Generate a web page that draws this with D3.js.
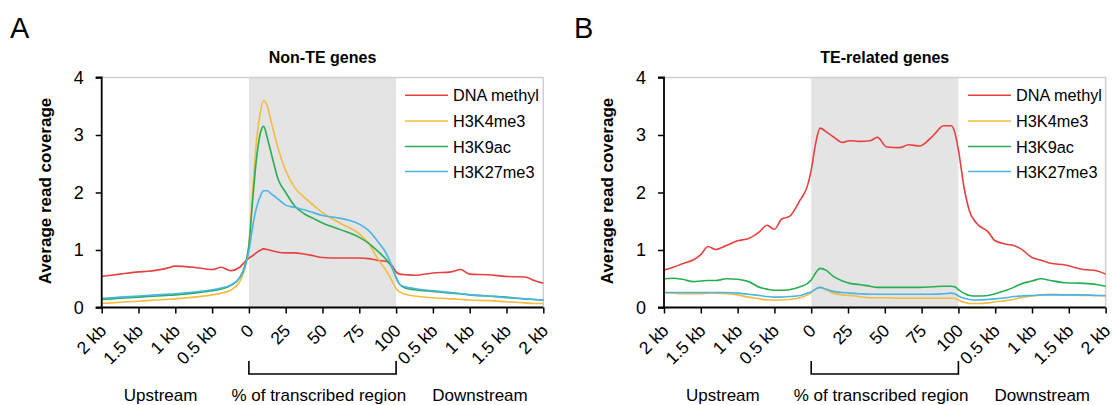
<!DOCTYPE html>
<html><head><meta charset="utf-8">
<script src="https://cdn.jsdelivr.net/npm/d3@7"></script>
<style>
html,body{margin:0;padding:0;background:#fff;}
svg{display:block;font-family:"Liberation Sans",Arial,sans-serif;}
</style></head>
<body>
<svg id="chart" width="1113" height="405"></svg>
<script>
// ---------- data ----------
const seriesNames = ["DNA methyl", "H3K4me3", "H3K9ac", "H3K27me3"];
const seriesColors = ["#e8403f", "#f2bc3e", "#27ae52", "#4ab4e6"];
const xTickLabels = ["2 kb","1.5 kb","1 kb","0.5 kb","0","25","50","75","100","0.5 kb","1 kb","1.5 kb","2 kb"];
const yTicks = [0,1,2,3,4];
const regionLabels = ["Upstream","% of transcribed region","Downstream"];
const panelTitles = ["Non-TE genes","TE-related genes"];
const panelLetters = ["A","B"];

// Panel A: positions along the metagene axis (0-4 upstream, 4-8 gene body, 8-12 downstream)
const posA = [0,0.5,1,1.25,1.5,1.75,2,2.5,3,3.25,3.5,3.75,3.9,4,4.1,4.2,4.3,4.4,4.5,4.6,4.8,5,5.25,5.5,5.75,6,6.5,7,7.25,7.5,7.75,7.9,8,8.1,8.25,8.5,9,9.5,9.75,10,10.5,11,11.5,11.75,12];
const dnaA   = [0.54,0.58,0.62,0.63,0.65,0.68,0.72,0.70,0.66,0.70,0.64,0.70,0.80,0.86,0.90,0.95,0.99,1.02,1.01,0.99,0.96,0.95,0.95,0.93,0.90,0.87,0.86,0.86,0.85,0.82,0.80,0.72,0.62,0.58,0.57,0.56,0.60,0.62,0.66,0.58,0.57,0.54,0.53,0.47,0.42];
const k4A    = [0.07,0.09,0.11,0.12,0.13,0.14,0.15,0.18,0.22,0.25,0.30,0.45,0.70,1.10,2.00,2.85,3.35,3.60,3.50,3.25,2.75,2.38,2.08,1.92,1.78,1.65,1.46,1.28,1.12,0.85,0.62,0.45,0.33,0.27,0.23,0.20,0.17,0.15,0.14,0.13,0.12,0.10,0.08,0.07,0.07];
const k9A    = [0.14,0.16,0.18,0.19,0.20,0.21,0.22,0.25,0.29,0.32,0.38,0.52,0.75,1.08,1.85,2.55,3.00,3.15,2.95,2.70,2.22,2.00,1.76,1.63,1.55,1.47,1.35,1.22,1.12,0.98,0.82,0.68,0.52,0.40,0.34,0.31,0.28,0.25,0.24,0.22,0.20,0.18,0.15,0.14,0.13];
const k27A   = [0.16,0.18,0.20,0.21,0.22,0.23,0.24,0.27,0.31,0.34,0.39,0.52,0.72,0.98,1.40,1.72,1.92,2.03,2.03,1.98,1.88,1.78,1.74,1.70,1.65,1.60,1.55,1.45,1.34,1.15,0.92,0.70,0.52,0.40,0.36,0.33,0.29,0.26,0.24,0.22,0.20,0.17,0.15,0.14,0.13];

// Panel B
const posB = [0,0.25,0.5,0.8,1.0,1.2,1.4,1.7,2.0,2.3,2.6,2.8,3.0,3.2,3.4,3.7,3.9,4.0,4.12,4.24,4.4,4.6,4.85,5.05,5.3,5.6,5.8,6.05,6.4,6.65,6.95,7.3,7.6,7.8,7.9,8.0,8.15,8.3,8.5,8.8,9.0,9.3,9.5,9.7,10.0,10.25,10.5,10.9,11.4,11.75,12];
const dnaB   = [0.65,0.70,0.76,0.83,0.92,1.06,1.01,1.08,1.16,1.20,1.32,1.43,1.36,1.54,1.58,1.87,2.12,2.39,2.85,3.12,3.06,2.97,2.87,2.90,2.89,2.90,2.96,2.79,2.78,2.83,2.81,2.98,3.16,3.16,3.05,2.74,2.10,1.68,1.46,1.32,1.16,1.10,1.08,1.02,0.87,0.82,0.77,0.74,0.66,0.64,0.58];
const k4B    = [0.26,0.25,0.24,0.24,0.24,0.25,0.25,0.24,0.22,0.18,0.15,0.13,0.13,0.13,0.14,0.17,0.22,0.26,0.32,0.35,0.31,0.25,0.22,0.21,0.19,0.17,0.17,0.17,0.16,0.16,0.16,0.16,0.16,0.16,0.16,0.13,0.09,0.07,0.07,0.08,0.10,0.12,0.14,0.17,0.20,0.22,0.23,0.22,0.21,0.21,0.20];
const k9B    = [0.50,0.51,0.49,0.45,0.46,0.47,0.47,0.50,0.49,0.45,0.35,0.32,0.30,0.30,0.31,0.36,0.42,0.48,0.60,0.68,0.65,0.54,0.46,0.42,0.40,0.37,0.35,0.35,0.35,0.35,0.35,0.36,0.37,0.37,0.36,0.31,0.25,0.21,0.20,0.21,0.24,0.30,0.35,0.41,0.46,0.50,0.47,0.43,0.42,0.40,0.37];
const k27B   = [0.26,0.26,0.26,0.26,0.26,0.26,0.26,0.26,0.25,0.23,0.21,0.19,0.18,0.18,0.19,0.21,0.25,0.27,0.32,0.35,0.32,0.28,0.26,0.25,0.24,0.23,0.23,0.23,0.23,0.23,0.23,0.23,0.24,0.25,0.24,0.20,0.16,0.14,0.13,0.14,0.15,0.17,0.19,0.20,0.21,0.22,0.22,0.22,0.22,0.21,0.21];

const panels = [
  {pos: posA, series: [dnaA, k4A, k9A, k27A], left: 101.7, right: 543.3, ylabX: 45, letterX: 10, legX: 405},
  {pos: posB, series: [dnaB, k4B, k9B, k27B], left: 664, right: 1105.6, ylabX: 607, letterX: 574, legX: 968}
];

// ---------- drawing ----------
const svg = d3.select("#chart");
const plotTop = 77.5, plotBottom = 307.5;
const y = d3.scaleLinear().domain([0,4]).range([plotBottom, plotTop]);

panels.forEach((p, pi) => {
  const x = d3.scaleLinear().domain([0,12]).range([p.left, p.right]);
  const g = svg.append("g");

  g.append("rect").attr("x", x(4)).attr("y", plotTop).attr("width", x(8)-x(4)).attr("height", plotBottom-plotTop).attr("fill", "#e4e4e4");

  g.append("path").attr("d", `M${p.left},${plotTop}H${p.right}V${plotBottom}`).attr("fill","none").attr("stroke","#cfcfcf").attr("stroke-width",1.5);

  const line = d3.line().x((d,i)=>x(p.pos[i])).y(d=>y(d)).curve(d3.curveMonotoneX);
  p.series.forEach((s, si) => {
    g.append("path").datum(s).attr("d", line).attr("fill","none")
      .attr("stroke", seriesColors[si]).attr("stroke-width", 1.6).attr("stroke-linejoin","round");
  });

  const yAxis = d3.axisLeft(y).tickValues(yTicks).tickSize(6).tickPadding(12).tickFormat(d3.format("d"));
  const ya = g.append("g").attr("transform", `translate(${p.left},0)`).call(yAxis);
  ya.select(".domain").attr("stroke","#000").attr("stroke-width",1.8).attr("d", `M-6,${plotTop}H0V${plotBottom}H-6`);
  ya.selectAll(".tick line").attr("stroke","#000").attr("stroke-width",1.5);
  ya.selectAll(".tick text").attr("font-size", 18).attr("fill","#000").attr("font-family","Liberation Sans, Arial, sans-serif");

  const xAxis = d3.axisBottom(x).tickValues(d3.range(13)).tickSize(6).tickFormat((d,i)=>xTickLabels[i]);
  const xa = g.append("g").attr("transform", `translate(0,${plotBottom})`).call(xAxis);
  xa.select(".domain").attr("stroke","#000").attr("stroke-width",1.8).attr("d", `M${p.left},0H${p.right}`);
  xa.selectAll(".tick line").attr("stroke","#000").attr("stroke-width",1.5);
  xa.selectAll(".tick text").attr("font-size", 17.5).attr("fill","#000")
    .attr("font-family","Liberation Sans, Arial, sans-serif")
    .attr("text-anchor","end").attr("dy", null).attr("y", null)
    .attr("transform","translate(1,20) rotate(-45)")
    .attr("dominant-baseline","central");

  svg.append("text").attr("transform", `translate(${p.ylabX},191) rotate(-90)`)
    .attr("text-anchor","middle").attr("dominant-baseline","central")
    .attr("font-size",17).attr("font-weight","bold").text("Average read coverage");

  svg.append("text").attr("x", (p.left+p.right)/2).attr("y", 63).attr("text-anchor","middle")
    .attr("font-size",16).attr("font-weight","bold").text(panelTitles[pi]);

  svg.append("text").attr("x", p.letterX).attr("y", 38).attr("font-size",29).text(panelLetters[pi]);

  g.append("path").attr("d", `M${x(4)},361V374H${x(8)}V361`).attr("fill","none").attr("stroke","#000").attr("stroke-width",1.6);

  const rx = [x(1.6), x(5.9), x(10.28)];
  regionLabels.forEach((t, ri) => {
    svg.append("text").attr("x", rx[ri]).attr("y", 401).attr("text-anchor","middle").attr("font-size",17).text(t);
  });

  const legY = [95.3, 121, 146.5, 171.5];
  seriesNames.forEach((n, si) => {
    g.append("line").attr("x1", p.legX).attr("x2", p.legX+43).attr("y1", legY[si]).attr("y2", legY[si])
      .attr("stroke", seriesColors[si]).attr("stroke-width", 1.6);
    g.append("text").attr("x", p.legX+48).attr("y", legY[si]).attr("dominant-baseline","central")
      .attr("font-size",16.3).text(n);
  });
});
</script>
</body></html>
